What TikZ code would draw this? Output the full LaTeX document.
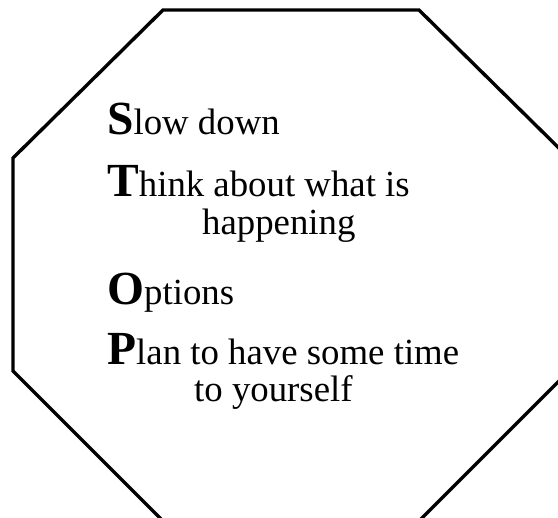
\documentclass[tikz,border=0pt]{standalone}
\usepackage{fontspec}
\setmainfont{Liberation Serif}
\newcommand{\initl}[1]{{\fontsize{47.5}{48}\selectfont\bfseries #1}}
\tikzset{
  sign/.style={draw=black, line width=3.4pt, line join=miter},
  txt/.style={anchor=base west, inner sep=0pt, font=\fontsize{36.8}{45}\selectfont}
}
\begin{document}
\begin{tikzpicture}[x=1pt,y=-1pt]
\clip (0,0) rectangle (558,518);
\fill[white] (0,0) rectangle (558,518);
\draw[sign] (163,10) -- (419,10) -- (569,158) -- (569,371) -- (419,521) -- (163,521) -- (13,371) -- (13,158) -- cycle;
\node[txt] (s) at (107,135) {\initl{S}low down};
\node[txt] (t) at (107,197) {\initl{T}hink about what is};
\node[txt] (t2) at (202,235) {happening};
\node[txt] (o) at (107,305) {\initl{O}ptions};
\node[txt] (p) at (107,365) {\initl{P}lan to have some time};
\node[txt] (p2) at (194,402) {to yourself};
\end{tikzpicture}
\end{document}
